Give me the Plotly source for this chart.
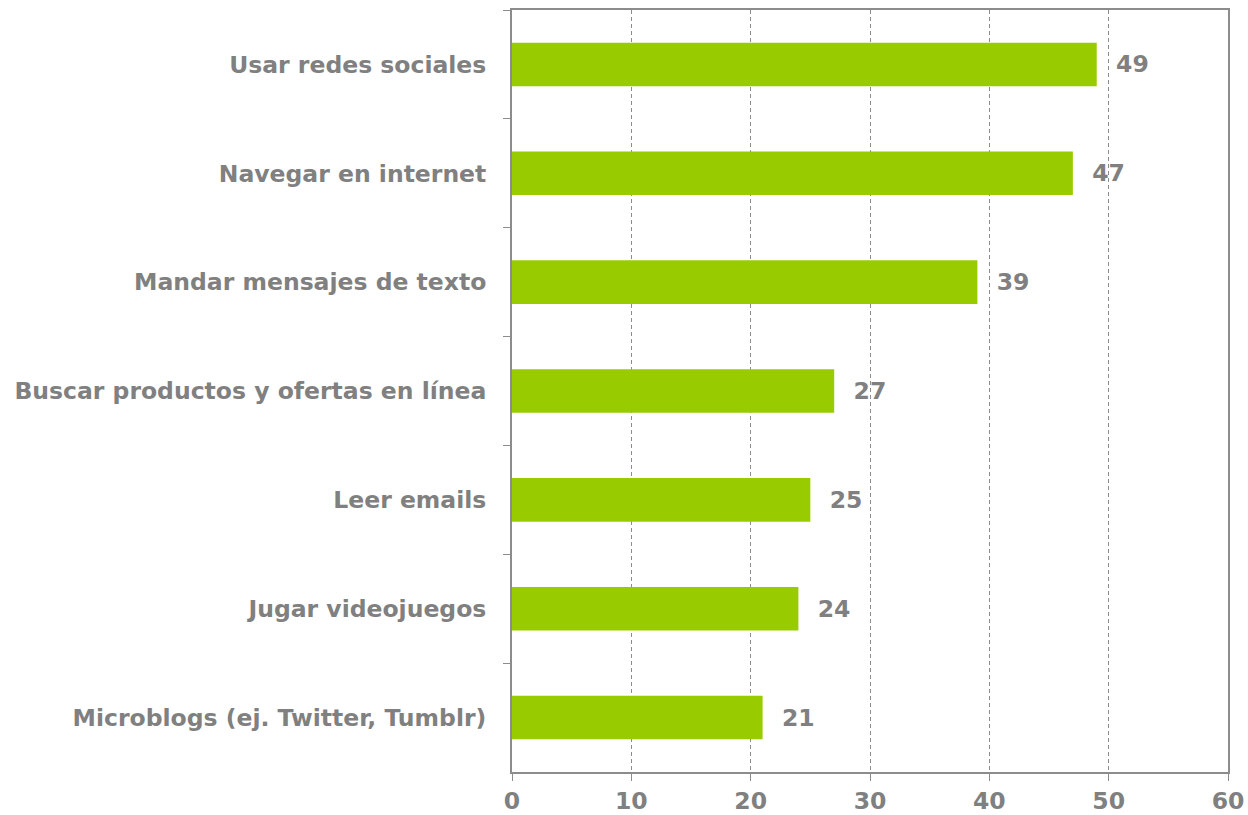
import plotly.graph_objects as go

# Datos del gráfico
actividades = [
    "Usar redes sociales",
    "Navegar en internet",
    "Mandar mensajes de texto",
    "Buscar productos y ofertas en línea",
    "Leer emails",
    "Jugar videojuegos",
    "Microblogs (ej. Twitter, Tumblr)",
]
valores = [49, 47, 39, 27, 25, 24, 21]

gris = "#808080"
fuente = dict(family="DejaVu Sans", size=23.5, color=gris, weight="bold")

fig = go.Figure()

fig.add_trace(go.Bar(
    x=valores,
    y=actividades,
    orientation="h",
    width=0.4,
    marker=dict(color="#99CC00", line=dict(width=0)),
    text=valores,
    texttemplate="  %{text}",
    textposition="outside",
    textfont=fuente,
    cliponaxis=False,
))

fig.update_layout(
    width=1248,
    height=815,
    margin=dict(l=512, r=20, t=10, b=43),
    plot_bgcolor="white",
    paper_bgcolor="white",
    showlegend=False,
    xaxis=dict(
        range=[0, 60],
        dtick=10,
        showgrid=True,
        gridcolor="#8c8c8c",
        griddash="4px,3px",
        gridwidth=1,
        showline=True,
        linecolor="#8c8c8c",
        linewidth=2,
        mirror=True,
        ticks="outside",
        ticklen=7,
        tickcolor="#8c8c8c",
        tickfont=fuente,
        zeroline=False,
        automargin=False,
    ),
    yaxis=dict(
        autorange="reversed",
        showline=True,
        linecolor="#8c8c8c",
        linewidth=2,
        mirror=True,
        ticks="outside",
        tickson="boundaries",
        ticklen=7,
        tickcolor="#8c8c8c",
        tickfont=fuente,
        ticklabelstandoff=19,
        automargin=False,
    ),
)

# quitar el margen del body para que la figura ocupe toda la ventana
fig.write_html(
    "out.html",
    config={"displayModeBar": False},
    post_script="document.body.style.margin='0';document.body.style.overflow='hidden';",
)
